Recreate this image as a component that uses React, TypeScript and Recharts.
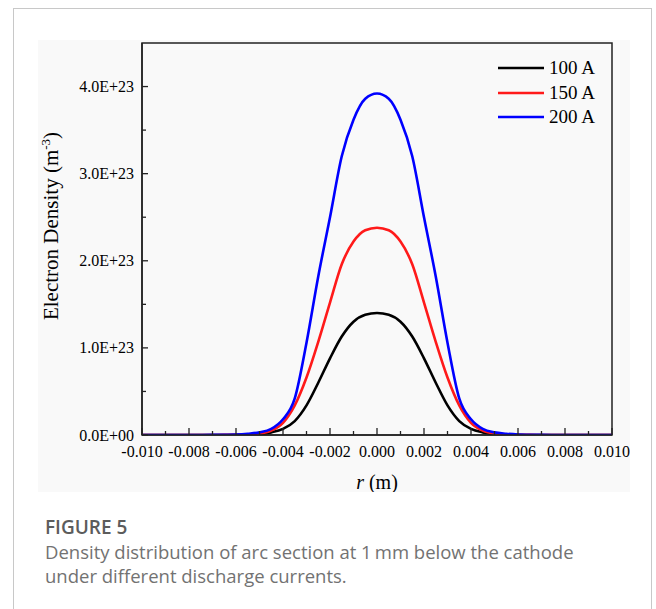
import React from 'react';
import { LineChart, Line, XAxis, YAxis, ReferenceArea, Legend } from 'recharts';

// radial position r (m)
const rValues = [
  -0.010, -0.008, -0.007, -0.0065, -0.006, -0.0055, -0.005, -0.0045, -0.004, -0.0035, -0.003,
  -0.0025, -0.002, -0.0015, -0.001, -0.0005, 0, 0.0005, 0.001, 0.0015, 0.002, 0.0025,
  0.003, 0.0035, 0.004, 0.0045, 0.005, 0.0055, 0.006, 0.0065, 0.007, 0.008, 0.010,
];

// electron density (m^-3)
const density100A = [
  0, 0, 0, 0, 0.001e23, 0.003e23, 0.01e23, 0.03e23, 0.07e23, 0.16e23, 0.34e23,
  0.60e23, 0.88e23, 1.13e23, 1.30e23, 1.38e23, 1.40e23, 1.38e23, 1.30e23, 1.13e23, 0.88e23, 0.60e23,
  0.34e23, 0.16e23, 0.07e23, 0.03e23, 0.01e23, 0.003e23, 0.001e23, 0, 0, 0, 0,
];
const density150A = [
  0, 0, 0, 0.001e23, 0.002e23, 0.005e23, 0.015e23, 0.05e23, 0.14e23, 0.34e23, 0.66e23,
  1.07e23, 1.52e23, 1.96e23, 2.22e23, 2.35e23, 2.38e23, 2.35e23, 2.22e23, 1.96e23, 1.52e23, 1.07e23,
  0.66e23, 0.34e23, 0.14e23, 0.05e23, 0.015e23, 0.005e23, 0.002e23, 0.001e23, 0, 0, 0,
];
const density200A = [
  0, 0, 0.001e23, 0.003e23, 0.006e23, 0.015e23, 0.03e23, 0.07e23, 0.18e23, 0.42e23, 1.06e23,
  1.82e23, 2.50e23, 3.20e23, 3.62e23, 3.86e23, 3.92e23, 3.86e23, 3.62e23, 3.20e23, 2.50e23, 1.82e23,
  1.06e23, 0.42e23, 0.18e23, 0.07e23, 0.03e23, 0.015e23, 0.006e23, 0.003e23, 0.001e23, 0, 0,
];

const seriesNames = ['100 A', '150 A', '200 A'];
const seriesKeys = ['a100', 'a150', 'a200'];
const seriesColors = ['#000000', '#ff1a1a', '#0000ff'];

const xTicks = [
  -0.010, -0.009, -0.008, -0.007, -0.006, -0.005, -0.004, -0.003, -0.002, -0.001, 0,
  0.001, 0.002, 0.003, 0.004, 0.005, 0.006, 0.007, 0.008, 0.009, 0.010,
];
const yTicks = [0, 0.5e23, 1.0e23, 1.5e23, 2.0e23, 2.5e23, 3.0e23, 3.5e23, 4.0e23];

const data = rValues.map((r, i) => ({
  r,
  a100: density100A[i],
  a150: density150A[i],
  a200: density200A[i],
}));

const SERIF = "'Liberation Serif', 'Times New Roman', serif";
const AXIS = '#222222';

const XTick = (props: any) => {
  const { x, y, payload } = props;
  const v = payload.value as number;
  const major = Math.round(v * 1000) % 2 === 0;
  return (
    <g>
      <line x1={x} x2={x} y1={y} y2={y - (major ? 7 : 4)} stroke={AXIS} strokeWidth={1.3} />
      {major && (
        <text x={x} y={y + 22} textAnchor="middle" fontFamily={SERIF} fontSize={16} fill="#000">
          {v.toFixed(3)}
        </text>
      )}
    </g>
  );
};

const YTick = (props: any) => {
  const { x, y, payload } = props;
  const v = payload.value as number;
  const major = Math.round(v / 0.5e23) % 2 === 0;
  const label = v === 0 ? '0.0E+00' : (v / 1e23).toFixed(1) + 'E+23';
  return (
    <g>
      <line x1={x} x2={x + (major ? 6 : 4)} y1={y} y2={y} stroke={AXIS} strokeWidth={1.3} />
      {major && (
        <text x={x - 8} y={y} dy="0.35em" textAnchor="end" fontFamily={SERIF} fontSize={16} fill="#000">
          {label}
        </text>
      )}
    </g>
  );
};

const XLabel = (props: any) => {
  const vb = props.viewBox || {};
  const cx = vb.x + vb.width / 2;
  const cy = vb.y + 54;
  return (
    <text x={cx} y={cy} textAnchor="middle" fontFamily={SERIF} fontSize={20} fill="#000">
      <tspan fontStyle="italic">r</tspan>
      <tspan> (m)</tspan>
    </text>
  );
};

const YLabel = () => {
  const cx = 20;
  const cy = 186;
  return (
    <text
      x={cx}
      y={cy}
      transform={`rotate(-90 ${cx} ${cy})`}
      textAnchor="middle"
      fontFamily={SERIF}
      fontSize={21}
      fill="#000"
    >
      <tspan>Electron Density (m</tspan>
      <tspan fontSize={13} dy={-8}>-3</tspan>
      <tspan dy={8}>)</tspan>
    </text>
  );
};

const LegendContent = (props: any) => {
  const payload = props.payload || [];
  return (
    <div style={{ fontFamily: SERIF, fontSize: 19, color: '#000' }}>
      {payload.map((e: any, i: number) => (
        <div key={i} style={{ display: 'flex', alignItems: 'center', height: 24.5 }}>
          <svg width={46} height={6} style={{ display: 'block' }}>
            <line x1={0} x2={46} y1={3} y2={3} stroke={e.color} strokeWidth={2.6} />
          </svg>
          <span style={{ marginLeft: 5, lineHeight: '24.5px' }}>{e.value}</span>
        </div>
      ))}
    </div>
  );
};

export default function App() {
  return (
    <div style={{ position: 'absolute', left: 0, top: 0, width: 656, height: 609, overflow: 'hidden', background: '#fff' }}>
      <div
        style={{
          position: 'absolute',
          left: 13,
          top: 8,
          width: 639,
          height: 640,
          border: '1px solid #c8c8c8',
          boxSizing: 'border-box',
        }}
      />
      <div style={{ position: 'absolute', left: 38, top: 40, width: 592, height: 452, background: '#f9f9f9' }}>
        <LineChart width={592} height={452} data={data} margin={{ top: 3, right: 18, left: 0, bottom: 0 }}>
          <XAxis
            dataKey="r"
            type="number"
            domain={[-0.01, 0.01]}
            ticks={xTicks}
            interval={0}
            tick={<XTick />}
            tickSize={0}
            tickMargin={0}
            tickLine={false}
            axisLine={{ stroke: AXIS, strokeWidth: 1.5 }}
            height={57}
            label={<XLabel />}
            allowDataOverflow
          />
          <YAxis
            type="number"
            domain={[0, 4.5e23]}
            ticks={yTicks}
            interval={0}
            tick={<YTick />}
            tickSize={0}
            tickMargin={0}
            tickLine={false}
            axisLine={{ stroke: AXIS, strokeWidth: 1.5 }}
            width={104}
            label={<YLabel />}
            allowDataOverflow
          />
          <ReferenceArea
            x1={-0.01}
            x2={0.01}
            y1={0}
            y2={4.5e23}
            fill="none"
            fillOpacity={0}
            stroke={AXIS}
            strokeWidth={1.5}
            ifOverflow="visible"
          />
          {seriesKeys.map((k, i) => (
            <Line
              key={k}
              type="monotone"
              dataKey={k}
              name={seriesNames[i]}
              stroke={seriesColors[i]}
              strokeWidth={2.6}
              dot={false}
              activeDot={false}
              isAnimationActive={false}
            />
          ))}
          <Legend
            content={<LegendContent />}
            layout="vertical"
            verticalAlign="middle"
            align="center"
            wrapperStyle={{ position: 'absolute', left: 460, top: 16, width: 'auto', right: 'auto', bottom: 'auto' }}
          />
        </LineChart>
      </div>
      <div
        style={{
          position: 'absolute',
          left: 45,
          top: 515,
          fontFamily: "'Open Sans', sans-serif",
          fontSize: 19,
          fontWeight: 600,
          lineHeight: '24px',
          color: '#5c5c5c',
        }}
      >
        FIGURE 5
      </div>
      <div
        style={{
          position: 'absolute',
          left: 45,
          top: 540,
          width: 605,
          fontFamily: "'Open Sans', sans-serif",
          fontSize: 18.5,
          lineHeight: '24px',
          color: '#727272',
          whiteSpace: 'nowrap',
        }}
      >
        Density distribution of arc section at 1&thinsp;mm below the cathode
        <br />
        under different discharge currents.
      </div>
    </div>
  );
}
